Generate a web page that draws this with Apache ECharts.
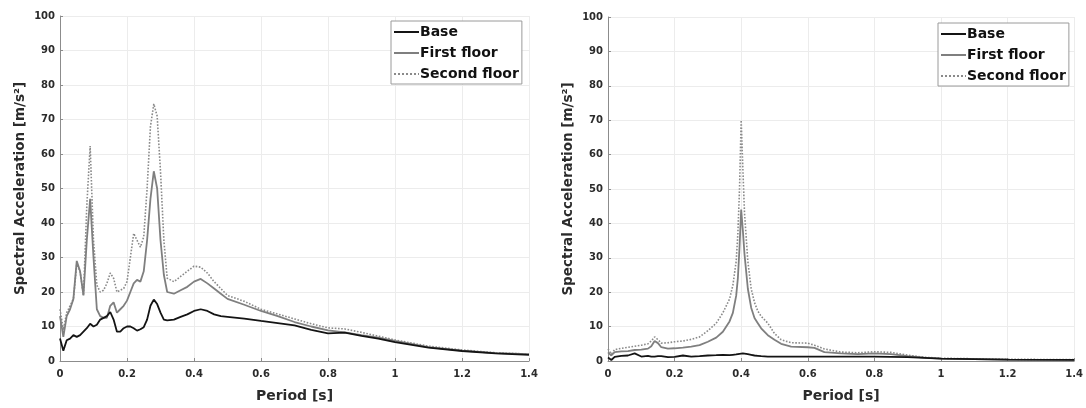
<!DOCTYPE html>
<html>
<head>
<meta charset="utf-8">
<script src="https://cdn.jsdelivr.net/npm/echarts@6/dist/echarts.min.js"></script>
<style>
  html, body { margin: 0; padding: 0; background: #fff; }
  #chart { width: 1086px; height: 408px; }
</style>
</head>
<body>
<div id="chart"></div>
<script>
// Response spectra: base vs. floors, two load cases (left / right panels)
const seriesNames = ['Base', 'First floor', 'Second floor'];
const xTicks = [0, 0.2, 0.4, 0.6, 0.8, 1, 1.2, 1.4];
const yTicks = [0, 10, 20, 30, 40, 50, 60, 70, 80, 90, 100];

// Left panel
const leftPeriod = [0,0.01,0.02,0.03,0.04,0.05,0.06,0.07,0.08,0.09,0.10,0.11,0.12,0.13,0.14,0.15,0.16,0.17,0.18,0.19,0.20,
  0.21,0.22,0.23,0.24,0.25,0.26,0.27,0.28,0.29,0.30,0.31,0.32,0.34,0.36,0.38,0.40,0.42,0.44,0.46,0.48,0.50,
  0.55,0.60,0.65,0.70,0.75,0.80,0.85,0.90,0.95,1.0,1.1,1.2,1.3,1.4];
const leftBase = [6.5,3,6,6.5,7.5,7,7.5,8.5,9.5,10.8,10,10.5,12,12.5,13,14.2,12,8.5,8.5,9.5,10,
  10,9.5,8.8,9.2,9.8,12,16,17.8,16.5,14,12,11.8,12,12.8,13.5,14.5,15,14.5,13.5,13,12.8,
  12.3,11.6,11,10.3,9,8,8.2,7.3,6.5,5.5,3.9,2.9,2.2,1.8];
const leftFirst = [13,7,13,15,18,29,26,19,35,47,30,15,13,12.5,12.5,16,17,14,15,16,17.5,
  20,22.5,23.5,23,26,35,47,55,50,35,25,20,19.5,20.5,21.5,23,23.8,22.5,21,19.5,18,
  16.3,14.5,13,11.3,10,8.9,8.3,7.5,6.8,5.8,4,3,2.3,2];
const leftSecond = [15,9,14,16,18,28,26,19,45,62.3,35,22,20,20.5,22.5,25.5,24,20,20.5,21,23,
  30,37,35,33,36,50,68,74.5,71,55,35,24,23,24.5,26,27.5,27.2,25.5,23,21,19,
  17.3,15,13.6,12.2,10.8,9.6,9.3,8.3,7.2,6.1,4.3,3.2,2.4,2];

// Right panel
const rightPeriod = [0,0.01,0.02,0.04,0.06,0.08,0.10,0.12,0.13,0.14,0.15,0.16,0.18,0.20,
  0.225,0.25,0.275,0.30,0.325,0.345,0.365,0.375,0.385,0.39,0.395,0.40,0.405,0.41,0.42,0.43,
  0.44,0.45,0.46,0.48,0.50,0.52,0.55,0.60,0.62,0.65,0.70,0.75,0.80,0.85,0.90,0.95,1.0,1.2,1.4];
const rightBase = [1,0.3,1.2,1.5,1.6,2.2,1.3,1.5,1.3,1.3,1.4,1.4,1.1,1.2,
  1.6,1.3,1.4,1.6,1.7,1.8,1.7,1.8,1.9,2,2.1,2.2,2.2,2.1,2,1.8,
  1.6,1.5,1.4,1.3,1.3,1.3,1.3,1.3,1.3,1.3,1.3,1.3,1.3,1.2,1.1,0.9,0.7,0.4,0.3];
const rightFirst = [2.5,1.6,2.6,2.8,2.9,3.2,3.3,3.6,4.3,5.8,5.2,4,3.6,3.7,
  3.9,4.2,4.6,5.6,6.8,8.5,11.5,14,19,24,33,44,38,31,21,15.5,
  12.5,11,9.5,7.5,6.2,5,4.2,4,3.8,2.6,2.2,2,2.2,2,1.4,1,0.7,0.4,0.3];
const rightSecond = [3.5,2,3.3,3.7,4,4.3,4.6,5,5.8,7,6.2,5.2,5.3,5.6,
  5.8,6.3,7,8.8,11,14,18,22,29,37,50,70,56,43,29,21,
  17,14.5,13,11,8,6.2,5.3,5.2,4.6,3.5,2.6,2.4,2.7,2.5,1.7,1.1,0.8,0.5,0.4];

const FONT = 'DejaVu Sans';
const textColor = '#2b2b2b';
const lineStyles = [
  { color: '#141414', width: 1.8, type: 'solid' },
  { color: '#7f7f7f', width: 1.8, type: 'solid' },
  { color: '#8a8a8a', width: 1.6, type: 'dotted' }
];

function pairs(xs, ys) { return xs.map((x, i) => [x, ys[i]]); }

function xAxis(gridIndex) {
  return {
    type: 'value', gridIndex, min: xTicks[0], max: xTicks[xTicks.length - 1], interval: 0.2,
    name: 'Period [s]', nameLocation: 'middle', nameGap: 28,
    nameTextStyle: { fontFamily: FONT, fontWeight: 'bold', fontSize: 14, color: textColor },
    axisLine: { show: true, onZero: false, lineStyle: { color: '#8c8c8c', width: 1 } },
    axisTick: { show: true, inside: true, length: 3, lineStyle: { color: '#8c8c8c' } },
    axisLabel: { fontFamily: FONT, fontWeight: 'bold', fontSize: 10, color: textColor, margin: 8,
      formatter: v => String(Math.round(v * 10) / 10) },
    splitLine: { show: true, lineStyle: { color: '#ececec', width: 1 } }
  };
}
function yAxis(gridIndex) {
  return {
    type: 'value', gridIndex, min: yTicks[0], max: yTicks[yTicks.length - 1], interval: 10,
    name: 'Spectral Acceleration [m/s²]', nameLocation: 'middle', nameGap: 33, nameRotate: 90,
    nameTextStyle: { fontFamily: FONT, fontWeight: 'bold', fontSize: 13.5, color: textColor },
    axisLine: { show: true, lineStyle: { color: '#8c8c8c', width: 1 } },
    axisTick: { show: true, inside: true, length: 3, lineStyle: { color: '#8c8c8c' } },
    axisLabel: { fontFamily: FONT, fontWeight: 'bold', fontSize: 10, color: textColor, margin: 5 },
    splitLine: { show: true, lineStyle: { color: '#ececec', width: 1 } }
  };
}
function legend(left, top) {
  return {
    data: seriesNames, orient: 'vertical', left, top,
    itemWidth: 25, itemHeight: 12, itemGap: 7,
    backgroundColor: '#fff', borderColor: '#9a9a9a', borderWidth: 1,
    padding: [4, 3, 3, 2],
    itemStyle: { opacity: 0, borderWidth: 0 },
    textStyle: { fontFamily: FONT, fontWeight: 'bold', fontSize: 14, color: '#111', padding: [0, 0, 0, -4] },
    selectedMode: false
  };
}

const panels = [
  { period: leftPeriod, values: [leftBase, leftFirst, leftSecond] },
  { period: rightPeriod, values: [rightBase, rightFirst, rightSecond] }
];

const series = [];
panels.forEach((p, gi) => {
  p.values.forEach((vals, si) => {
    series.push({
      name: seriesNames[si], type: 'line', xAxisIndex: gi, yAxisIndex: gi,
      data: pairs(p.period, vals), showSymbol: false, symbol: 'none',
      lineStyle: lineStyles[si], itemStyle: { color: lineStyles[si].color },
      animation: false, z: 3 - si
    });
  });
});

const chart = echarts.init(document.getElementById('chart'), null, { renderer: 'canvas' });
chart.setOption({
  backgroundColor: '#fff',
  animation: false,
  grid: [
    { left: 60, right: 557, top: 16, bottom: 40 },
    { left: 608, right: 9, top: 17, bottom: 39 }
  ],
  xAxis: [xAxis(0), xAxis(1)],
  yAxis: [yAxis(0), yAxis(1)],
  legend: [legend(391, 21), legend(938, 23)],
  series
});
</script>
</body>
</html>
